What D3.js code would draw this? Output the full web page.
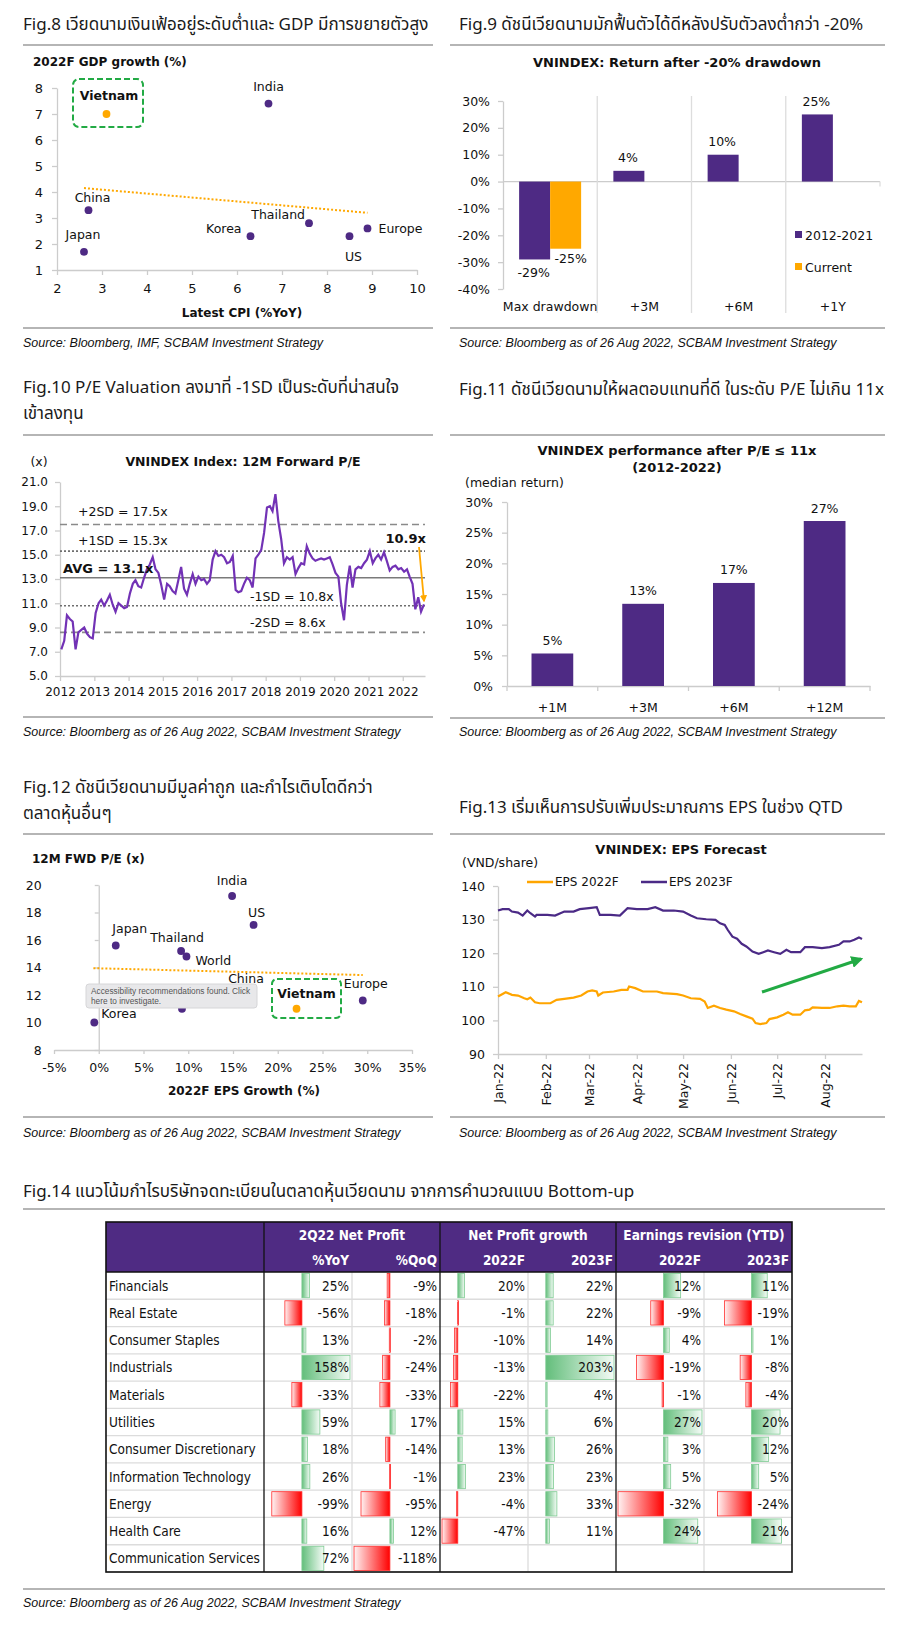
<!DOCTYPE html>
<html>
<head>
<meta charset="utf-8">
<script src="https://cdn.jsdelivr.net/npm/d3@7"></script>
<style>
  body { margin: 0; background: #fff; }
  .ttl { font-family: "Noto Sans Thai", "Noto Sans", sans-serif; font-size: 17px; fill: #1a1a1a; }
  .src { font-family: "Liberation Sans", Arial, sans-serif; font-style: italic; font-size: 12.5px; fill: #111; }
</style>
</head>
<body>
<div id="chart"></div>
<script>
const FONT = "DejaVu Sans, Verdana, sans-serif"
const TFONT = "DejaVu Sans Condensed, DejaVu Sans, sans-serif"
const PURPLE = "#4E2A84", ORANGE = "#FFA800", GREEN = "#22AA44", AXIS = "#cccccc"

// ---- Fig.8 data
const gdpCountries = ["Vietnam", "India", "China", "Japan", "Korea", "Thailand", "US", "Europe"]
const gdpCpi = [3.1, 6.7, 2.7, 2.6, 6.3, 7.6, 8.5, 8.9]
const gdpGrowth = [7.0, 7.4, 3.3, 1.7, 2.3, 2.8, 2.3, 2.6]
const gdpTrendX = [2.6, 8.9]
const gdpTrendY = [4.15, 3.2]

// ---- Fig.9 data
const ddCats = ["Max drawdown", "+3M", "+6M", "+1Y"]
const ddSeries = ["2012-2021", "Current"]
const ddHist = [-29, 4, 10, 25]
const ddCurrent = [-25, null, null, null]

// ---- Fig.10 data (monthly, Jan 2012 - Aug 2022)
const peStart = [2012, 0]
const peValues = [
  7.2, 7.9, 10.0, 9.7, 9.5, 7.2, 8.6, 8.8, 9.0, 8.5, 8.2, 8.1,
  10.2, 11.0, 11.3, 10.8, 11.2, 11.7, 10.9, 10.3, 11.0, 10.8, 10.6, 10.7,
  11.8, 12.6, 12.9, 12.4, 12.3, 13.1, 13.8, 14.2, 14.8, 13.8, 13.5, 12.5,
  11.3, 12.6, 12.4, 12.0, 11.8, 12.9, 14.0, 12.2, 11.7, 12.6, 13.4, 12.6,
  13.2, 12.9, 13.0, 12.6, 12.9, 14.6, 15.3, 14.9, 15.0, 14.8, 14.3, 14.4,
  14.9, 12.1, 11.9, 12.0, 12.6, 13.1, 12.9, 12.3, 14.7, 15.0, 15.4, 16.8,
  18.9, 19.0, 18.6, 20.0, 17.8, 16.3, 14.3, 14.8, 14.6, 14.8, 13.4, 13.9,
  14.3, 14.2, 15.7, 15.1, 14.7, 14.5, 14.6, 14.7, 14.6, 14.7, 14.8, 14.2,
  13.5, 13.2, 11.0, 9.6, 12.5, 14.1, 12.3, 13.8, 14.0, 13.9, 14.3, 14.6,
  15.3, 14.3, 14.7, 15.0, 14.6, 15.2, 14.5, 13.7, 14.0, 14.1, 13.8, 13.9,
  13.6, 13.8, 13.2, 12.6, 10.5, 11.5, 10.3, 10.9
]
const peBandNames = ["+2SD", "+1SD", "AVG", "-1SD", "-2SD"]
const peBandValues = [17.5, 15.3, 13.1, 10.8, 8.6]
const peLast = 10.9

// ---- Fig.11 data
const perfCats = ["+1M", "+3M", "+6M", "+12M"]
const perfValues = [5.3, 13.4, 16.8, 26.9]

// ---- Fig.12 data
const fwdCountries = ["India", "US", "Japan", "Thailand", "World", "China", "Korea", "Vietnam", "Europe"]
const fwdEpsGrowth = [14.9, 17.3, 1.9, 9.2, 9.8, 9.3, -0.5, 22.1, 29.5]
const fwdPE = [19.2, 17.1, 15.6, 15.2, 14.8, 11.0, 10.0, 11.0, 11.6]
const fwdTrendX = [-0.6, 29.5]
const fwdTrendY = [13.95, 13.45]

// ---- Fig.13 data (days after 1 Jan 2022)
const eps23Days = [0, 3, 7, 9, 13, 16, 19, 21, 24, 25, 32, 37, 43, 49, 53, 59, 64, 66, 73, 79, 84, 90, 97, 102, 107, 114, 120, 125, 129, 135, 141, 144, 147, 149, 152, 155, 158, 161, 165, 169, 172, 175, 179, 183, 187, 190, 196, 199, 204, 210, 215, 221, 224, 228, 231, 234, 236]
const eps23Vals = [132.7, 133.1, 133.1, 132.4, 132.1, 131.2, 132.7, 131.9, 130.9, 131.4, 131.4, 131.2, 132.4, 132.4, 133.1, 133.4, 133.7, 131.4, 131.4, 131.2, 133.4, 133.1, 133.1, 133.7, 132.7, 132.7, 132.4, 131.2, 130.4, 130.1, 129.9, 128.9, 128.4, 126.9, 124.9, 124.3, 122.8, 122.0, 120.5, 119.8, 120.3, 120.8, 120.3, 119.8, 121.0, 120.3, 120.3, 121.8, 121.8, 121.5, 121.8, 122.5, 123.5, 123.5, 124.0, 124.7, 124.2]
const eps22Days = [0, 5, 9, 13, 17, 19, 21, 24, 27, 34, 38, 43, 49, 54, 58, 61, 64, 65, 68, 75, 80, 84, 85, 89, 94, 103, 107, 116, 120, 125, 131, 134, 136, 140, 144, 148, 153, 157, 161, 165, 167, 170, 174, 176, 181, 185, 188, 191, 196, 199, 202, 204, 210, 215, 220, 224, 228, 232, 234, 236]
const eps22Vals = [107.1, 108.4, 107.6, 107.4, 106.6, 106.3, 106.8, 105.4, 105.1, 105.1, 106.1, 106.4, 106.8, 107.4, 108.6, 108.9, 108.6, 107.4, 108.3, 108.6, 109.1, 109.1, 110.1, 109.6, 108.6, 108.6, 108.1, 107.8, 107.4, 106.6, 106.4, 105.6, 103.7, 104.4, 103.7, 103.2, 102.7, 101.9, 101.2, 100.5, 99.2, 98.9, 99.2, 100.4, 100.9, 101.7, 102.4, 101.7, 101.7, 103.0, 103.2, 103.9, 103.7, 103.7, 104.2, 104.4, 104.2, 104.2, 105.8, 105.4]

// ---- Fig.14 data
const sectors = ["Financials", "Real Estate", "Consumer Staples", "Industrials", "Materials", "Utilities",
  "Consumer Discretionary", "Information Technology", "Energy", "Health Care", "Communication Services"]
const tblGroups = ["2Q22 Net Profit", "Net Profit growth", "Earnings revision (YTD)"]
const tblCols = ["%YoY", "%QoQ", "2022F", "2023F", "2022F", "2023F"]
const npYoY = [25, -56, 13, 158, -33, 59, 18, 26, -99, 16, 72]
const npQoQ = [-9, -18, -2, -24, -33, 17, -14, -1, -95, 12, -118]
const npg2022 = [20, -1, -10, -13, -22, 15, 13, 23, -4, -47, null]
const npg2023 = [22, 22, 14, 203, 4, 6, 26, 23, 33, 11, null]
const rev2022 = [12, -9, 4, -19, -1, 27, 3, 5, -32, 24, null]
const rev2023 = [11, -19, 1, -8, -4, 20, 12, 5, -24, 21, null]

// ------------------------------------------------------------
const svg = d3.select("#chart").append("svg")
  .attr("width", 900).attr("height", 1626)
  .style("font-family", FONT)

const defs = svg.append("defs")
function arrowMarker(id, color) {
  defs.append("marker").attr("id", id).attr("viewBox", "0 0 10 10")
    .attr("refX", 8).attr("refY", 5).attr("markerWidth", 4).attr("markerHeight", 4)
    .attr("orient", "auto")
    .append("path").attr("d", "M0,0L10,5L0,10z").attr("fill", color)
}
arrowMarker("arrG", GREEN)
arrowMarker("arrO", ORANGE)

function rule(x1, x2, y) {
  svg.append("line").attr("x1", x1).attr("x2", x2).attr("y1", y).attr("y2", y)
    .attr("stroke", "#9c9c9c").attr("stroke-width", 1.6)
}
function figTitle(x, y, lines) {
  lines.forEach((t, i) => svg.append("text").attr("class", "ttl")
    .attr("x", x).attr("y", y + i * 26).attr("dominant-baseline", "central").text(t))
}
function source(x, y, t) {
  svg.append("text").attr("class", "src").attr("x", x).attr("y", y)
    .attr("dominant-baseline", "central").text(t)
}
function txt(g, x, y, s, o = {}) {
  return g.append("text").attr("x", x).attr("y", y)
    .attr("dominant-baseline", "central")
    .attr("text-anchor", o.anchor || "start")
    .attr("font-size", o.size || 12.5)
    .attr("font-weight", o.bold ? "bold" : null)
    .attr("font-family", o.family || FONT)
    .attr("fill", o.fill || "#111")
    .text(s)
}
function styleAxis(sel, size) {
  sel.attr("font-family", FONT).attr("font-size", size || 12)
  sel.select(".domain").attr("stroke", AXIS).attr("stroke-width", 1.3)
  sel.selectAll(".tick line").attr("stroke", AXIS).attr("stroke-width", 1.3)
  sel.selectAll(".tick text").attr("fill", "#111")
  return sel
}
const SRC2 = "Source: Bloomberg as of 26 Aug 2022, SCBAM Investment Strategy"

// ================= Fig.8 =================
figTitle(23, 25, ["Fig.8 เวียดนามเงินเฟ้ออยู่ระดับต่ำและ GDP มีการขยายตัวสูง"])
rule(23, 433, 45)
{
  const g = svg.append("g")
  const x = d3.scaleLinear().domain([2, 10]).range([57, 417])
  const y = d3.scaleLinear().domain([1, 8]).range([270, 88])
  styleAxis(g.append("g").attr("transform", "translate(0,270)")
    .call(d3.axisBottom(x).ticks(8).tickSize(5).tickPadding(9).tickSizeOuter(0)), 13)
  styleAxis(g.append("g").attr("transform", "translate(57,0)")
    .call(d3.axisLeft(y).ticks(7).tickSize(5).tickPadding(9).tickSizeOuter(0)), 13)
  txt(g, 33, 62, "2022F GDP growth (%)", { bold: true, size: 12 })
  txt(g, 242, 313, "Latest CPI (%YoY)", { bold: true, size: 12, anchor: "middle" })

  g.append("line")
    .attr("x1", x(gdpTrendX[0])).attr("y1", y(gdpTrendY[0]))
    .attr("x2", x(gdpTrendX[1])).attr("y2", y(gdpTrendY[1]))
    .attr("stroke", ORANGE).attr("stroke-width", 2).attr("stroke-dasharray", "2,2")

  const labelPos = {
    Vietnam: [2.5, -19, "middle"], India: [0, -17.5, "middle"], China: [4, -13, "middle"],
    Japan: [-1, -17, "middle"], Korea: [-9, -8, "end"], Thailand: [-4, -9, "end"],
    US: [4, 20, "middle"], Europe: [11, 0, "start"]
  }
  g.append("rect").attr("x", 73).attr("y", 79).attr("width", 70).attr("height", 48).attr("rx", 6)
    .attr("fill", "none").attr("stroke", GREEN).attr("stroke-width", 2).attr("stroke-dasharray", "6,3")
  gdpCountries.forEach((c, i) => {
    const px = x(gdpCpi[i]), py = y(gdpGrowth[i])
    g.append("circle").attr("cx", px).attr("cy", py).attr("r", 3.9)
      .attr("fill", c === "Vietnam" ? ORANGE : PURPLE)
    const p = labelPos[c]
    txt(g, px + p[0], py + p[1], c, { anchor: p[2], bold: c === "Vietnam", size: 12.5 })
  })
}
rule(23, 433, 328)
source(23, 343, "Source: Bloomberg, IMF, SCBAM Investment Strategy")

// ================= Fig.9 =================
figTitle(459, 25, ["Fig.9 ดัชนีเวียดนามมักฟื้นตัวได้ดีหลังปรับตัวลงต่ำกว่า -20%"])
rule(450, 885, 45)
{
  const g = svg.append("g")
  const x = d3.scaleBand().domain(ddCats).range([503, 880])
  const xs = d3.scaleBand().domain(ddSeries).range([0, x.bandwidth()]).paddingOuter(0.52)
  const y = d3.scaleLinear().domain([-40, 30]).range([289, 101])
  txt(g, 677, 62, "VNINDEX: Return after -20% drawdown", { bold: true, size: 13, anchor: "middle" })
  styleAxis(g.append("g").attr("transform", "translate(503,0)")
    .call(d3.axisLeft(y).tickValues(d3.range(-40, 31, 10)).tickFormat(d => d + "%")
      .tickSize(5).tickPadding(8).tickSizeOuter(0)), 12.5)
  // zero line + category separators
  g.append("line").attr("x1", 503).attr("x2", 880).attr("y1", y(0)).attr("y2", y(0))
    .attr("stroke", AXIS).attr("stroke-width", 1.3)
  ddCats.slice(1).concat([null]).forEach(c => {
    const sx = c ? x(c) : 880
    g.append("line").attr("x1", sx).attr("x2", sx).attr("y1", c ? 96 : y(0)).attr("y2", c ? 313 : y(0) + 5)
      .attr("stroke", "#dddddd").attr("stroke-width", 1.3)
  })
  ddCats.forEach((c, i) => {
    txt(g, x(c) + x.bandwidth() / 2, 306, c, { anchor: "middle", size: 12.5 })
    const vals = [ddHist[i], ddCurrent[i]]
    vals.forEach((v, k) => {
      if (v == null) return
      const bx = x(c) + xs(ddSeries[k])
      g.append("rect").attr("x", bx).attr("width", xs.bandwidth())
        .attr("y", Math.min(y(0), y(v))).attr("height", Math.abs(y(v) - y(0)))
        .attr("fill", k === 0 ? PURPLE : ORANGE)
      const ly = v < 0 ? y(v) + (k === 0 ? 13 : 10) : y(v) - 13
      txt(g, bx + xs.bandwidth() / 2 + (k === 1 ? 5 : -1), ly, v + "%", { anchor: "middle", size: 12.5 })
    })
  })
  ddSeries.forEach((s, k) => {
    g.append("rect").attr("x", 795).attr("y", 231 + k * 32).attr("width", 7).attr("height", 7)
      .attr("fill", k === 0 ? PURPLE : ORANGE)
    txt(g, 805, 235 + k * 32, s, { size: 12.5 })
  })
}
rule(450, 885, 328)
source(459, 343, SRC2)

// ================= Fig.10 =================
figTitle(23, 388, ["Fig.10 P/E Valuation ลงมาที่ -1SD เป็นระดับที่น่าสนใจ", "เข้าลงทุน"])
rule(23, 433, 435)
{
  const g = svg.append("g")
  const dates = peValues.map((v, i) => new Date(peStart[0], peStart[1] + i, 15))
  const x = d3.scaleTime().domain([new Date(2012, 0, 1), new Date(2022, 7, 26)]).range([60, 425])
  const y = d3.scaleLinear().domain([5, 21]).range([676, 482])
  txt(g, 39, 461, "(x)", { anchor: "middle", size: 12.5 })
  txt(g, 243, 461, "VNINDEX Index: 12M Forward P/E", { bold: true, size: 12.5, anchor: "middle" })
  styleAxis(g.append("g").attr("transform", "translate(0,676)")
    .call(d3.axisBottom(x).ticks(d3.timeYear.every(1)).tickFormat(d3.timeFormat("%Y"))
      .tickSize(5).tickPadding(6).tickSizeOuter(0)), 12)
  styleAxis(g.append("g").attr("transform", "translate(60,0)")
    .call(d3.axisLeft(y).tickValues(d3.range(5, 22, 2)).tickFormat(d3.format(".1f"))
      .tickSize(5).tickPadding(7).tickSizeOuter(0)), 12)

  const bandStyle = { "+2SD": ["#8a8a8a", "7,4"], "+1SD": ["#6e6e6e", "2,2"], "AVG": ["#7a7a7a", null],
    "-1SD": ["#6e6e6e", "2,2"], "-2SD": ["#8a8a8a", "7,4"] }
  peBandNames.forEach((n, i) => {
    const st = bandStyle[n]
    g.append("line").attr("x1", 60).attr("x2", 425).attr("y1", y(peBandValues[i])).attr("y2", y(peBandValues[i]))
      .attr("stroke", st[0]).attr("stroke-width", 1.6).attr("stroke-dasharray", st[1])
  })
  g.append("path").datum(peValues)
    .attr("d", d3.line().x((d, i) => x(dates[i])).y(d => y(d)))
    .attr("fill", "none").attr("stroke", "#7232B5").attr("stroke-width", 2.2)

  const bandLabelPos = { "+2SD": [78, 511], "+1SD": [78, 540], "AVG": [63, 568], "-1SD": [250, 596], "-2SD": [250, 622] }
  peBandNames.forEach((n, i) => {
    const p = bandLabelPos[n]
    const t = `${n} = ${peBandValues[i].toFixed(1)}x`
    txt(g, p[0], p[1], t, { bold: n === "AVG", size: n === "AVG" ? 13 : 12.5 })
  })
  txt(g, 426, 538, peLast.toFixed(1) + "x", { bold: true, size: 13, anchor: "end" })
  g.append("line").attr("x1", 419).attr("y1", 547).attr("x2", 424).attr("y2", 601)
    .attr("stroke", ORANGE).attr("stroke-width", 1.8).attr("marker-end", "url(#arrO)")
}
rule(23, 433, 717)
source(23, 732, SRC2)

// ================= Fig.11 =================
figTitle(459, 390, ["Fig.11 ดัชนีเวียดนามให้ผลตอบแทนที่ดี ในระดับ P/E ไม่เกิน 11x"])
rule(450, 885, 435)
{
  const g = svg.append("g")
  const x = d3.scaleBand().domain(perfCats).range([507, 870]).paddingInner(0.54).paddingOuter(0.27)
  const y = d3.scaleLinear().domain([0, 30]).range([686, 502])
  txt(g, 677, 450, "VNINDEX performance after P/E \u2264 11x", { bold: true, size: 13, anchor: "middle" })
  txt(g, 677, 467, "(2012-2022)", { bold: true, size: 13, anchor: "middle" })
  txt(g, 465, 482, "(median return)", { size: 12.5 })
  styleAxis(g.append("g").attr("transform", "translate(507,0)")
    .call(d3.axisLeft(y).tickValues(d3.range(0, 31, 5)).tickFormat(d => d + "%")
      .tickSize(5).tickPadding(9).tickSizeOuter(0)), 12.5)
  styleAxis(g.append("g").attr("transform", "translate(0,686)")
    .call(d3.axisBottom(x).tickSize(0).tickPadding(17)), 12.5)
  d3.range(5).forEach(i => {
    const tx = 507 + i * x.step()
    g.append("line").attr("x1", tx).attr("x2", tx).attr("y1", 686).attr("y2", 691)
      .attr("stroke", AXIS).attr("stroke-width", 1.3)
  })
  perfCats.forEach((c, i) => {
    g.append("rect").attr("x", x(c)).attr("width", x.bandwidth())
      .attr("y", y(perfValues[i])).attr("height", y(0) - y(perfValues[i])).attr("fill", PURPLE)
    txt(g, x(c) + x.bandwidth() / 2, y(perfValues[i]) - 13, d3.format(".0f")(perfValues[i]) + "%",
      { anchor: "middle", size: 12.5 })
  })
}
rule(450, 885, 718)
source(459, 732, SRC2)

// ================= Fig.12 =================
figTitle(23, 788, ["Fig.12 ดัชนีเวียดนามมีมูลค่าถูก และกำไรเติบโตดีกว่า", "ตลาดหุ้นอื่นๆ"])
rule(23, 433, 834)
{
  const g = svg.append("g")
  const x = d3.scaleLinear().domain([-5, 35]).range([54, 412])
  const y = d3.scaleLinear().domain([8, 20]).range([1050, 885])
  txt(g, 32, 859, "12M FWD P/E (x)", { bold: true, size: 12 })
  txt(g, 244, 1091, "2022F EPS Growth (%)", { bold: true, size: 12, anchor: "middle" })
  styleAxis(g.append("g").attr("transform", "translate(0,1050)")
    .call(d3.axisBottom(x).tickValues(d3.range(-5, 36, 5)).tickFormat(d => d + "%")
      .tickSize(4).tickPadding(9).tickSizeOuter(0)), 12.5)
  styleAxis(g.append("g").attr("transform", `translate(${x(0)},0)`)
    .call(d3.axisLeft(y).tickValues(d3.range(8, 21, 2)).tickSize(4).tickPadding(53).tickSizeOuter(0)), 12.5)

  g.append("line")
    .attr("x1", x(fwdTrendX[0])).attr("y1", y(fwdTrendY[0]))
    .attr("x2", x(fwdTrendX[1])).attr("y2", y(fwdTrendY[1]))
    .attr("stroke", ORANGE).attr("stroke-width", 2).attr("stroke-dasharray", "2,2")

  g.append("rect").attr("x", 272).attr("y", 979).attr("width", 69).attr("height", 39).attr("rx", 5)
    .attr("fill", "none").attr("stroke", GREEN).attr("stroke-width", 2).attr("stroke-dasharray", "6,3")

  const labelPos = {
    India: [0, -16, "middle"], US: [3, -12, "middle"], Japan: [14, -17, "middle"],
    Thailand: [-4, -14, "middle"], World: [9, 3.5, "start"], China: [64, -30, "middle"],
    Korea: [7, -9.5, "start"], Vietnam: [10, -15, "middle"], Europe: [3, -17, "middle"]
  }
  fwdCountries.forEach((c, i) => {
    const px = x(fwdEpsGrowth[i]), py = y(fwdPE[i])
    g.append("circle").attr("cx", px).attr("cy", py).attr("r", 3.9)
      .attr("fill", c === "Vietnam" ? ORANGE : PURPLE)
    const p = labelPos[c]
    txt(g, px + p[0], py + p[1], c, { anchor: p[2], bold: c === "Vietnam", size: 12.5 })
  })
  // viewer tooltip that sits over the reference picture
  g.append("rect").attr("x", 86).attr("y", 984).attr("width", 171).attr("height", 24).attr("rx", 3)
    .attr("fill", "#e8e8ea").attr("stroke", "#d6d6d8")
  txt(g, 91, 991, "Accessibility recommendations found. Click", { size: 8.3, fill: "#555", family: "Liberation Sans, Arial, sans-serif" })
  txt(g, 91, 1001, "here to investigate.", { size: 8.3, fill: "#555", family: "Liberation Sans, Arial, sans-serif" })
}
rule(23, 433, 1117)
source(23, 1133, SRC2)

// ================= Fig.13 =================
figTitle(459, 808, ["Fig.13 เริ่มเห็นการปรับเพิ่มประมาณการ EPS ในช่วง QTD"])
rule(450, 885, 834)
{
  const g = svg.append("g")
  const d0 = new Date(2022, 0, 1)
  const x = d3.scaleTime().domain([d0, new Date(2022, 7, 25)]).range([498, 862])
  const y = d3.scaleLinear().domain([90, 140]).range([1054, 886])
  txt(g, 681, 849, "VNINDEX: EPS Forecast", { bold: true, size: 13, anchor: "middle" })
  txt(g, 462, 862, "(VND/share)", { size: 12.5 })
  styleAxis(g.append("g").attr("transform", "translate(498,0)")
    .call(d3.axisLeft(y).ticks(5).tickSize(5).tickPadding(8).tickSizeOuter(0)), 12.5)
  const xa = styleAxis(g.append("g").attr("transform", "translate(0,1054)")
    .call(d3.axisBottom(x).ticks(d3.timeMonth.every(1)).tickFormat(d3.timeFormat("%b-%y"))
      .tickSize(5).tickSizeOuter(0)), 12.5)
  xa.selectAll(".tick text").attr("transform", "rotate(-90)").attr("text-anchor", "end")
    .attr("x", -9).attr("y", 0).attr("dy", "0.35em")

  const line = d3.line().x(d => x(d3.timeDay.offset(d0, d[0]))).y(d => y(d[1]))
  g.append("path").datum(eps22Days.map((d, i) => [d, eps22Vals[i]])).attr("d", line)
    .attr("fill", "none").attr("stroke", "#FFA500").attr("stroke-width", 2.2)
  g.append("path").datum(eps23Days.map((d, i) => [d, eps23Vals[i]])).attr("d", line)
    .attr("fill", "none").attr("stroke", "#4B2A86").attr("stroke-width", 2.2)

  const legend = [["EPS 2022F", "#FFA500", 527], ["EPS 2023F", "#4B2A86", 641]]
  legend.forEach(l => {
    g.append("line").attr("x1", l[2]).attr("x2", l[2] + 26).attr("y1", 882).attr("y2", 882)
      .attr("stroke", l[1]).attr("stroke-width", 2.5)
    txt(g, l[2] + 28, 882, l[0], { size: 12 })
  })
  g.append("line").attr("x1", 762).attr("y1", 992).attr("x2", 861).attr("y2", 959)
    .attr("stroke", GREEN).attr("stroke-width", 3).attr("marker-end", "url(#arrG)")
}
rule(450, 885, 1117)
source(459, 1133, SRC2)

// ================= Fig.14 table =================
figTitle(23, 1192, ["Fig.14 แนวโน้มกำไรบริษัทจดทะเบียนในตลาดหุ้นเวียดนาม จากการคำนวณแบบ Bottom-up"])
rule(23, 885, 1209)
{
  const g = svg.append("g")
  const T = { left: 106, nameR: 264, right: 792, top: 1222, head: 1272, bottom: 1572 }
  const cols = [npYoY, npQoQ, npg2022, npg2023, rev2022, rev2023]
  const cx = d3.scaleBand().domain(d3.range(6)).range([T.nameR, T.right])
  const ry = d3.scaleBand().domain(sectors).range([T.head, T.bottom])
  const cw = cx.bandwidth(), rh = ry.bandwidth()

  const grad = (id, a, b) => {
    const lg = defs.append("linearGradient").attr("id", id)
    lg.append("stop").attr("offset", "0%").attr("stop-color", a)
    lg.append("stop").attr("offset", "100%").attr("stop-color", b)
  }
  grad("gPos", "#63BE7B", "#f4fbf6")
  grad("gNeg", "#fff2f2", "#FF0000")

  g.append("rect").attr("x", T.left).attr("y", T.top).attr("width", T.right - T.left)
    .attr("height", T.head - T.top).attr("fill", "#4F2B83")
  // light grid
  sectors.forEach(s => {
    g.append("line").attr("x1", T.left).attr("x2", T.right).attr("y1", ry(s) + rh).attr("y2", ry(s) + rh)
      .attr("stroke", "#dcdcdc").attr("stroke-width", 1.3)
  })
  ;[1, 3, 5].forEach(k => {
    g.append("line").attr("x1", cx(k)).attr("x2", cx(k)).attr("y1", T.head).attr("y2", T.bottom)
      .attr("stroke", "#dcdcdc").attr("stroke-width", 1.3)
  })

  // data bars, one scale per pair of columns
  d3.range(3).forEach(gi => {
    const pair = [cols[gi * 2], cols[gi * 2 + 1]]
    const ext = d3.extent(pair.flat().filter(v => v != null))
    const s = d3.scaleLinear().domain(ext).range([2, cw - 2])
    pair.forEach((col, j) => {
      const k = gi * 2 + j
      col.forEach((v, r) => {
        if (v == null) return
        const y0 = ry(sectors[r]) + 1.5
        const a = s(0), b = s(v)
        g.append("rect").attr("x", cx(k) + Math.min(a, b)).attr("y", y0)
          .attr("width", Math.max(1, Math.abs(b - a))).attr("height", rh - 3)
          .attr("fill", v >= 0 ? "url(#gPos)" : "url(#gNeg)")
          .attr("stroke", v >= 0 ? "#7fcb93" : "#ff3030").attr("stroke-width", 0.8)
        txt(g, cx(k) + cw - 3, ry(sectors[r]) + rh / 2, v + "%",
          { anchor: "end", size: 13.5, family: TFONT })
      })
    })
  })
  sectors.forEach(s => txt(g, T.left + 3, ry(s) + rh / 2, s, { size: 13.5, family: TFONT }))

  // header text
  tblGroups.forEach((t, i) => {
    txt(g, cx(i * 2) + cw, 1235, t, { anchor: "middle", bold: true, size: 13.5, fill: "#fff", family: TFONT })
  })
  tblCols.forEach((t, k) => {
    txt(g, cx(k) + cw - 3, 1260, t, { anchor: "end", bold: true, size: 13.5, fill: "#fff", family: TFONT })
  })

  // black frame and group dividers
  ;[T.nameR, cx(2), cx(4)].forEach(vx => {
    g.append("line").attr("x1", vx).attr("x2", vx).attr("y1", T.top).attr("y2", T.bottom)
      .attr("stroke", "#111").attr("stroke-width", 1.3)
  })
  g.append("line").attr("x1", T.left).attr("x2", T.right).attr("y1", T.head).attr("y2", T.head)
    .attr("stroke", "#111").attr("stroke-width", 1.3)
  g.append("rect").attr("x", T.left).attr("y", T.top).attr("width", T.right - T.left)
    .attr("height", T.bottom - T.top).attr("fill", "none").attr("stroke", "#111").attr("stroke-width", 1.6)
}
rule(23, 885, 1589)
source(23, 1603, SRC2)
</script>
</body>
</html>
